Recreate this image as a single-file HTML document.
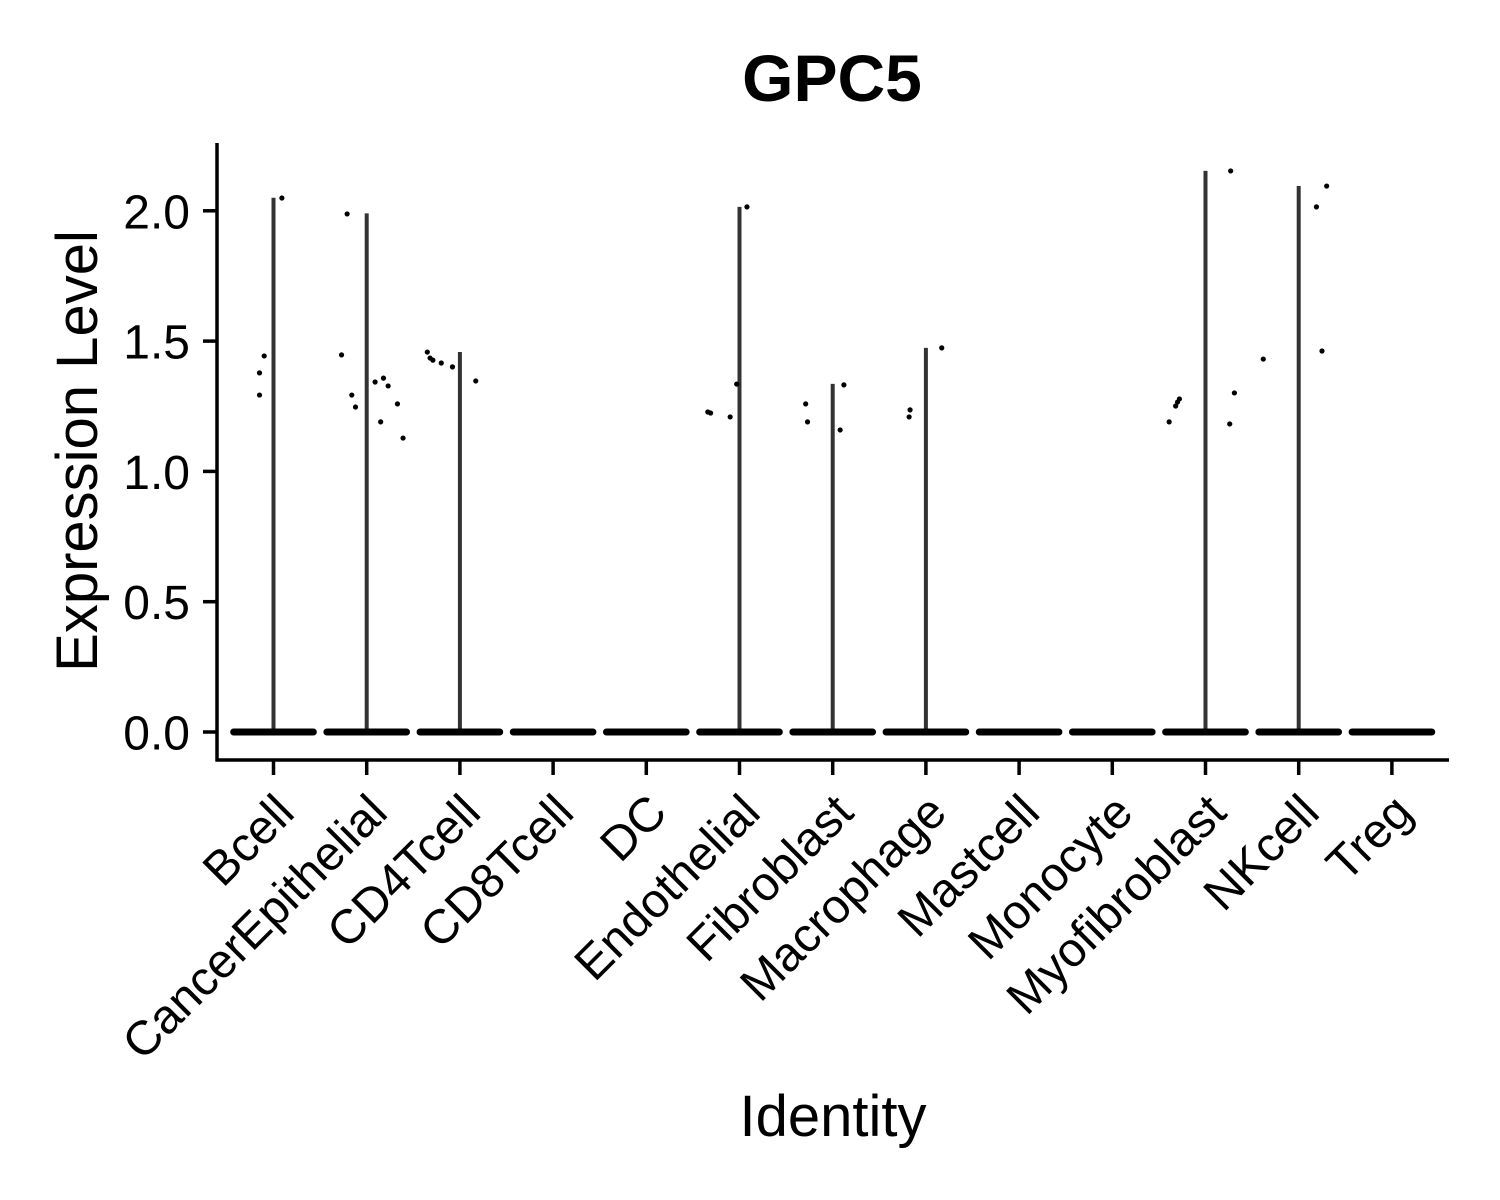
<!DOCTYPE html>
<html><head><meta charset="utf-8"><style>
html,body{margin:0;padding:0;background:#fff}
svg{display:block;font-family:"Liberation Sans",Arial,sans-serif}
</style></head><body>
<svg id="chart" width="1500" height="1200">
<text x="832" y="101" text-anchor="middle" font-size="66" font-weight="bold">GPC5</text>
<g id="plot"></g>
<line x1="217" y1="143" x2="217" y2="761.5" stroke="#000" stroke-width="3.5"/>
<line x1="215.5" y1="760" x2="1449" y2="760" stroke="#000" stroke-width="3.5"/>
<g id="yticks"></g>
<g id="xticks"></g>
<text transform="translate(97,451) rotate(-90)" text-anchor="middle" font-size="58">Expression Level</text>
<text x="833" y="1136" text-anchor="middle" font-size="58">Identity</text>
</svg>
<script>
const categories = ["Bcell","CancerEpithelial","CD4Tcell","CD8Tcell","DC","Endothelial","Fibroblast","Macrophage","Mastcell","Monocyte","Myofibroblast","NKcell","Treg"];
const maxValues = [2.05,1.99,1.458,0,0,2.015,1.336,1.474,0,0,2.153,2.095,0];
const yTicks = [0,0.5,1.0,1.5,2.0];
const yTickLabels = ["0.0","0.5","1.0","1.5","2.0"];
const pointCat = [0,0,0,0, 1,1,1,1,1,1,1,1,1,1, 2,2,2,2,2,2, 5,5,5,5,5, 6,6,6,6, 7,7,7, 10,10,10,10,10,10,10, 11,11,11,11];
const pointJitter = [-0.15,-0.10,-0.15,0.09, -0.21,-0.27,-0.16,-0.12,0.09,0.18,0.23,0.33,0.15,0.39, -0.35,-0.32,-0.29,-0.20,-0.08,0.17, -0.34,-0.31,-0.10,-0.03,0.08, -0.29,-0.27,0.08,0.12, -0.17,-0.18,0.17, -0.39,-0.32,-0.30,-0.28,0.27,0.31,0.26, -0.38,0.19,0.30,0.25];
const pointValue = [1.378,1.443,1.293,2.049, 1.988,1.447,1.293,1.247,1.343,1.358,1.328,1.259,1.19,1.128, 1.458,1.435,1.427,1.416,1.401,1.347, 1.228,1.224,1.209,1.335,2.015, 1.259,1.19,1.159,1.332, 1.236,1.209,1.474, 1.19,1.251,1.266,1.278,2.153,1.301,1.182, 1.431,2.015,2.095,1.462];

const NS="http://www.w3.org/2000/svg";
const xScale = i => 273.5 + i*93.2;
const yScale = v => 732 - v*260.6;
const band = 93.2;
function mk(tag, attrs, parent){const e=document.createElementNS(NS,tag);for(const k in attrs)e.setAttribute(k,attrs[k]);parent.appendChild(e);return e;}
const plot=document.getElementById('plot');
const yt=document.getElementById('yticks');
const xt=document.getElementById('xticks');

yTicks.forEach((v,i)=>{
  const t=mk('line',{x1:203,x2:217,y1:yScale(v),y2:yScale(v),stroke:'#000','stroke-width':3.5},yt);
  
  
  const l=mk('text',{x:190,y:yScale(v)+17.5,'text-anchor':'end','font-size':48},yt);
  l.textContent=yTickLabels[i];
  
  
});

categories.forEach((c,i)=>{
  const x=xScale(i);
  const t=mk('line',{x1:x,x2:x,y1:760,y2:775,stroke:'#000','stroke-width':3.5},xt);
  
  
  const l=mk('text',{transform:`translate(${x+23},815) rotate(-45)`,'text-anchor':'end','font-size':48},xt);
  l.textContent=c;
  
  
  if(maxValues[i]>0){
    const v=mk('line',{x1:x,x2:x,y1:yScale(0),y2:yScale(maxValues[i]),stroke:'#333','stroke-width':4},plot);
    
    
  }
  const b=mk('rect',{x:x-band*0.465,y:yScale(0)-3.5,width:band*0.93,height:7,rx:3.5,fill:'#000'},plot);
  
  
});

pointValue.forEach((v,i)=>{
  const p=mk('circle',{cx:xScale(pointCat[i])+pointJitter[i]*band,cy:yScale(v),r:2.6,fill:'#000'},plot);
  
  
});
</script>
</body></html>
